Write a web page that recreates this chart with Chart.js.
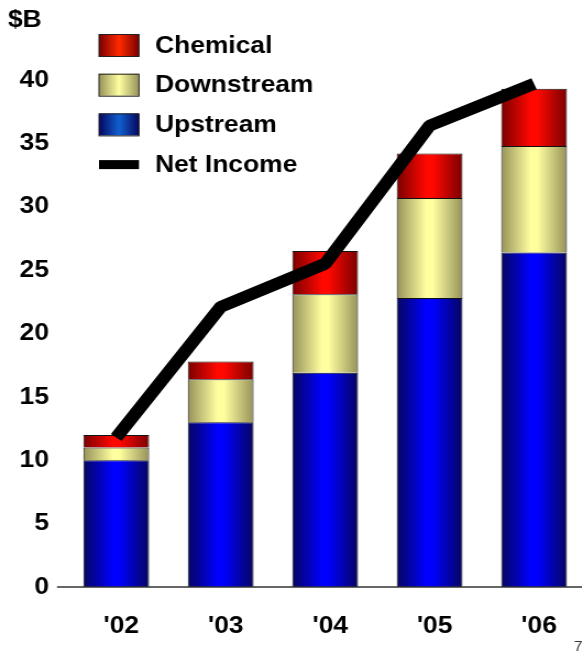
<!DOCTYPE html>
<html>
<head>
<meta charset="utf-8">
<script src="https://cdn.jsdelivr.net/npm/chart.js@4/dist/chart.umd.min.js"></script>
<style>
    html, body { margin: 0; padding: 0; background: #fff; overflow: hidden; }
    #wrap { position: relative; width: 582px; height: 657px; overflow: hidden; }
    /* el texto de la lamina original es algo ancho: se estira el lienzo en horizontal */
    #chart-segmentos { transform: scaleX(1.1); transform-origin: 0 0; }
</style>
</head>
<body>
<div id="wrap"><canvas id="chart-segmentos" width="533" height="657"></canvas></div>
<script>
// Ganancias por segmento, miles de millones de dolares
var anios = ["'02", "'03", "'04", "'05", "'06"];
var upstream = [10.0, 13.0, 16.9, 22.8, 26.4];
var downstream = [1.0, 3.4, 6.2, 7.9, 8.4];
var chemical = [1.0, 1.4, 3.4, 3.5, 4.5];
var netIncome = [11.8, 22.1, 25.5, 36.4, 39.7];
var yTicks = [0, 5, 10, 15, 20, 25, 30, 35, 40];

var FONT = "'Liberation Sans', Arial, sans-serif";
var BAR_PCT = 0.63;
var SX = 1.1; // mismo factor que el scaleX del css

// colores de borde y centro para el degradado horizontal de cada barra
var tonos = {
    upstream:   { borde: '#060660', centro: '#0000ff', legend: '#1060d0' },
    downstream: { borde: '#96925a', centro: '#ffffa0', legend: '#ffffa0' },
    chemical:   { borde: '#7a0000', centro: '#ff0800', legend: '#ff2a00' }
};

function degradado(tono) {
    return function (context) {
        var chart = context.chart;
        var x = chart.scales.x;
        if (!chart.chartArea || !x) return tono.centro;
        var centro = x.getPixelForValue(context.dataIndex);
        var ancho = (x.width / anios.length) * BAR_PCT;
        var g = chart.ctx.createLinearGradient(centro - ancho / 2, 0, centro + ancho / 2, 0);
        g.addColorStop(0, tono.borde);
        g.addColorStop(0.45, tono.centro);
        g.addColorStop(0.55, tono.centro);
        g.addColorStop(1, tono.borde);
        return g;
    };
}

// leyenda, titulo del eje, linea base y numero de pagina
var extras = {
    id: 'extras',
    afterDraw: function (chart) {
        var ctx = chart.ctx;
        var y0 = chart.scales.y.getPixelForValue(0);

        ctx.save();
        ctx.strokeStyle = '#333';
        ctx.lineWidth = 1.5;
        ctx.beginPath();
        ctx.moveTo(57 / SX, y0);
        ctx.lineTo(chart.width, y0);
        ctx.stroke();

        ctx.fillStyle = '#000';
        ctx.font = 'bold 24px ' + FONT;
        ctx.textAlign = 'left';
        ctx.textBaseline = 'middle';
        ctx.fillText('$B', 8 / SX, 20);

        var items = [
            { ds: chart.data.datasets[2], tono: tonos.chemical },
            { ds: chart.data.datasets[1], tono: tonos.downstream },
            { ds: chart.data.datasets[0], tono: tonos.upstream },
            { ds: chart.data.datasets[3], tono: null }
        ];
        var xCaja = 99 / SX, anchoCaja = 40 / SX;
        var yFila = 45;
        items.forEach(function (item) {
            if (item.tono) {
                var g = ctx.createLinearGradient(xCaja, 0, xCaja + anchoCaja, 0);
                g.addColorStop(0, item.tono.borde);
                g.addColorStop(0.5, item.tono.legend);
                g.addColorStop(1, item.tono.borde);
                ctx.fillStyle = g;
                ctx.fillRect(xCaja, yFila - 11, anchoCaja, 22);
                ctx.strokeStyle = '#222';
                ctx.lineWidth = 1;
                ctx.strokeRect(xCaja, yFila - 10.5, anchoCaja, 22);
            } else {
                ctx.fillStyle = '#000';
                ctx.fillRect(xCaja, yFila - 4, anchoCaja, 9);
            }
            ctx.fillStyle = '#000';
            ctx.font = 'bold 24px ' + FONT;
            ctx.fillText(item.ds.label, 155 / SX, yFila + 1);
            yFila += 39.7;
        });

        ctx.font = '14px ' + FONT;
        ctx.fillStyle = '#333';
        ctx.fillText('7', 574 / SX, 647);
        ctx.restore();
    }
};

var ctx = document.getElementById('chart-segmentos').getContext('2d');

var chart = new Chart(ctx, {
    type: 'bar',
    data: {
        labels: anios,
        datasets: [
            {
                label: 'Upstream',
                data: upstream,
                backgroundColor: degradado(tonos.upstream),
                borderColor: '#111',
                borderWidth: 1,
                order: 1
            },
            {
                label: 'Downstream',
                data: downstream,
                backgroundColor: degradado(tonos.downstream),
                borderColor: '#111',
                borderWidth: 1,
                order: 1
            },
            {
                label: 'Chemical',
                data: chemical,
                backgroundColor: degradado(tonos.chemical),
                borderColor: '#111',
                borderWidth: 1,
                order: 1
            },
            {
                type: 'line',
                label: 'Net Income',
                data: netIncome,
                borderColor: '#000',
                borderWidth: 12,
                borderCapStyle: 'butt',
                borderJoinStyle: 'bevel',
                pointRadius: 0,
                tension: 0,
                clip: false,
                stack: 'linea',
                order: 0
            }
        ]
    },
    options: {
        responsive: false,
        animation: false,
        layout: { padding: { top: 80, right: 0, bottom: 0, left: 0 } },
        datasets: {
            bar: { categoryPercentage: 1, barPercentage: BAR_PCT }
        },
        scales: {
            x: {
                stacked: true,
                grid: { display: false, drawTicks: false },
                border: { display: false },
                ticks: {
                    padding: 25,
                    labelOffset: 5 / SX,
                    color: '#000',
                    font: { family: FONT, size: 24, weight: 'bold' }
                },
                afterFit: function (scale) { scale.height = 70; }
            },
            y: {
                stacked: true,
                min: 0,
                max: 40,
                grid: { display: false, drawTicks: false },
                border: { display: false },
                afterBuildTicks: function (scale) {
                    scale.ticks = yTicks.map(function (v) { return { value: v }; });
                },
                ticks: {
                    autoSkip: false,
                    padding: 15 / SX,
                    color: '#000',
                    font: { family: FONT, size: 24, weight: 'bold' }
                },
                afterFit: function (scale) { scale.width = 64 / SX; }
            }
        },
        plugins: {
            legend: { display: false },
            tooltip: { enabled: false }
        }
    },
    plugins: [extras]
});
</script>
</body>
</html>
